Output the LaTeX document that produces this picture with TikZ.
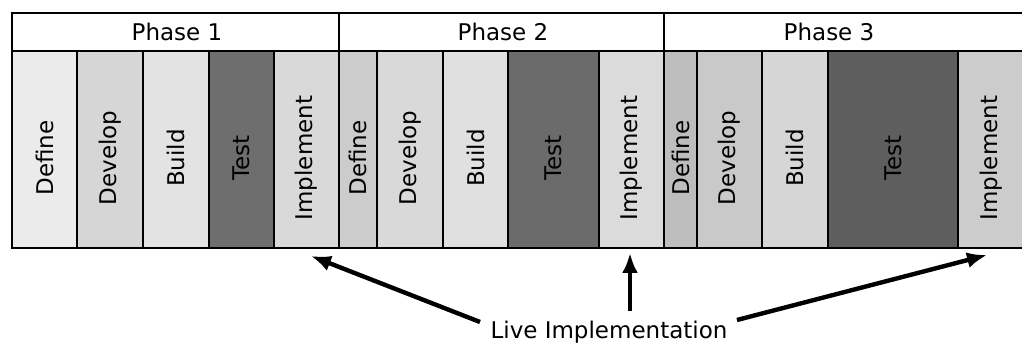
\documentclass[tikz,border=0pt]{standalone}
\usepackage{fontspec}
\setmainfont{DejaVu Sans}
\usetikzlibrary{arrows.meta}
\begin{document}
\begin{tikzpicture}
  [x=1pt,y=1pt,every node/.style={font=\fontsize{23}{27}\selectfont}]
  \tikzstyle{colbox} = [draw, line width=2.8pt]
  \tikzstyle{coltext} = [rotate=90]
  \tikzstyle{livearrow} = [line width=4.4pt, -{Latex[length=20pt,width=16pt]}]
  \useasboundingbox (0,0) rectangle (1022,344);
  % header row
  \foreach \name /\l /\r /\cx /\txt in {ph1/12/339/177/Phase 1,ph2/339/664/503/Phase 2,ph3/664/1024/829/Phase 3} {
   \draw[colbox, fill=white] (\l,293) rectangle (\r,331);
   \node (\name) at (\cx,312) {\txt};
  }
  % stage columns
  \foreach \name /\l /\r /\shade /\txt in {
    a1/12/77/black!8/Define, a2/77/143/black!16/Develop, a3/143/209/black!11/Build,
    a4/209/274/black!57/Test, a5/274/339/black!15/Implement,
    b1/339/377/black!20/Define, b2/377/443/black!15/Develop, b3/443/508/black!12/Build,
    b4/508/599/black!58/Test, b5/599/664/black!14/Implement,
    c1/664/697/black!26/Define, c2/697/762/black!21/Develop, c3/762/828/black!16/Build,
    c4/828/958/black!63/Test, c5/958/1024/black!20/Implement} {
   \draw[colbox, fill=\shade] (\l,96) rectangle (\r,293);
   \node[coltext] (\name) at ({(\l+\r)/2},186) {\txt};
  }
  % live implementation
  \node (live) at (609,12) {Live Implementation};
  \coordinate (tip1) at (311,88);
  \coordinate (tip2) at (630,91);
  \coordinate (tip3) at (987,89);
  \draw[livearrow] ([shift={(-7,10)}]live.west) -- (tip1);
  \draw[livearrow] ([yshift=6pt]live.north -| tip2) -- (tip2);
  \draw[livearrow] ([shift={(6,12)}]live.east) -- (tip3);
\end{tikzpicture}
\end{document}
